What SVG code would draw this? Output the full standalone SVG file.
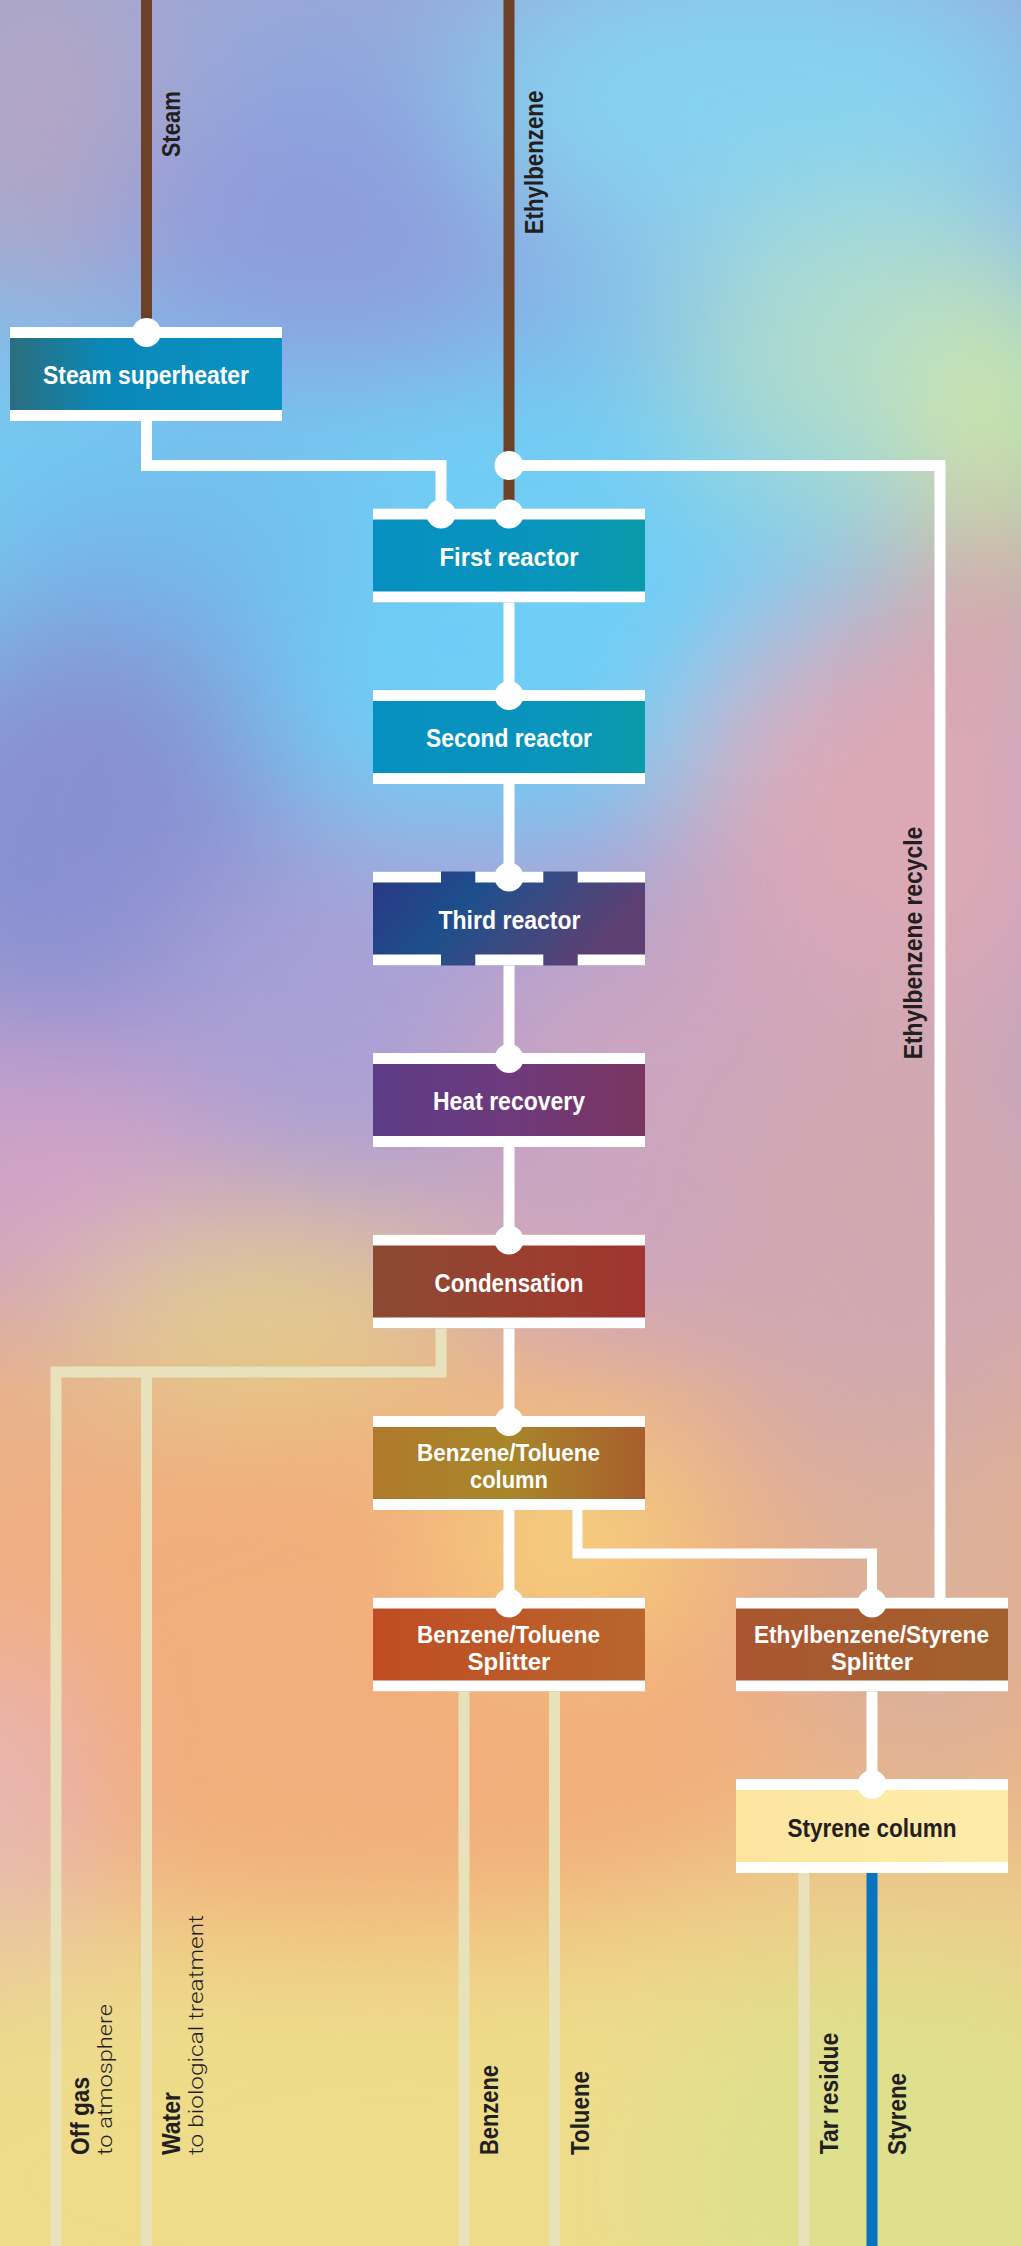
<svg xmlns="http://www.w3.org/2000/svg" width="1021" height="2246" viewBox="0 0 1021 2246">
<style>
.bar{fill:#fff}
.dot{fill:#fff}
.pipe{fill:none;stroke:#fff;stroke-width:11}
.cream{fill:none;stroke:#E8E2BC;stroke-width:11}
.brown{fill:none;stroke:#6C4127;stroke-width:11}
.blue{fill:none;stroke:#0874C0;stroke-width:11}
.lbl{font-family:"Liberation Sans Narrow","Liberation Sans",Arial,sans-serif;font-weight:bold;font-size:25.5px;fill:#fff;text-anchor:middle}
.lbl.two{font-size:24px}
.lbl.dark{fill:#231F20}
.side{font-family:"Liberation Sans Narrow","Liberation Sans",Arial,sans-serif;font-weight:bold;font-size:26px;fill:#231F20}
.light{font-family:Roboto,"Liberation Sans",Arial,sans-serif;font-weight:300;font-size:21px;fill:#231F20}
</style>
<defs>
<linearGradient id="bg" x1="0" y1="0" x2="0" y2="1">
<stop offset="0" stop-color="#98A8D8"/>
<stop offset="0.08" stop-color="#8AB0E4"/>
<stop offset="0.2" stop-color="#74CBF2"/>
<stop offset="0.3" stop-color="#7AC4EC"/>
<stop offset="0.38" stop-color="#98A0D8"/>
<stop offset="0.48" stop-color="#B4A0CC"/>
<stop offset="0.55" stop-color="#D0A8B8"/>
<stop offset="0.62" stop-color="#E8B08C"/>
<stop offset="0.75" stop-color="#F2B07E"/>
<stop offset="0.85" stop-color="#EDCB8A"/>
<stop offset="1" stop-color="#E8DE90"/>
</linearGradient>
<filter id="soft" x="-20%" y="-20%" width="140%" height="140%"><feGaussianBlur stdDeviation="70"/></filter>
<linearGradient id="gSteam" x1="0" y1="0" x2="1" y2="0"><stop offset="0" stop-color="#2B6E7E"/><stop offset="0.35" stop-color="#0A88B8"/><stop offset="1" stop-color="#0893C3"/></linearGradient>
<linearGradient id="gTeal" x1="0" y1="0" x2="1" y2="0"><stop offset="0" stop-color="#0690C1"/><stop offset="0.6" stop-color="#0894BC"/><stop offset="1" stop-color="#0A9BAA"/></linearGradient>
<linearGradient id="gThird" x1="0" y1="0" x2="1" y2="0.3"><stop offset="0" stop-color="#2C3683"/><stop offset="0.4" stop-color="#1D4F8C"/><stop offset="0.65" stop-color="#3A4A82"/><stop offset="1" stop-color="#5E3F72"/></linearGradient>
<linearGradient id="gHeat" x1="0" y1="0" x2="1" y2="0"><stop offset="0" stop-color="#5C3C86"/><stop offset="0.5" stop-color="#6E3A7C"/><stop offset="1" stop-color="#7A3560"/></linearGradient>
<linearGradient id="gCond" x1="0" y1="0" x2="1" y2="0"><stop offset="0" stop-color="#8A4A34"/><stop offset="0.5" stop-color="#9A4030"/><stop offset="1" stop-color="#A0352F"/></linearGradient>
<linearGradient id="gBTC" x1="0" y1="0" x2="1" y2="0"><stop offset="0" stop-color="#B07A2C"/><stop offset="0.5" stop-color="#A8862A"/><stop offset="1" stop-color="#A85E2C"/></linearGradient>
<linearGradient id="gBTS" x1="0" y1="0" x2="1" y2="0"><stop offset="0" stop-color="#C04C24"/><stop offset="1" stop-color="#B8662C"/></linearGradient>
<linearGradient id="gEBS" x1="0" y1="0" x2="1" y2="0"><stop offset="0" stop-color="#AA5630"/><stop offset="1" stop-color="#A2602E"/></linearGradient>
<linearGradient id="gSty" x1="0" y1="0" x2="1" y2="0"><stop offset="0" stop-color="#FDE5A0"/><stop offset="1" stop-color="#FEEBAA"/></linearGradient>
</defs>

<g id="background">
<rect x="0" y="0" width="1021" height="2246" fill="url(#bg)"/>
<g filter="url(#soft)">
<ellipse cx="40" cy="120" rx="140" ry="180" fill="#B4A6C4"/>
<ellipse cx="330" cy="220" rx="220" ry="140" fill="#8E9CDC"/>
<ellipse cx="760" cy="100" rx="300" ry="160" fill="#86D2F0"/>
<ellipse cx="880" cy="360" rx="200" ry="160" fill="#B0DCCC"/>
<ellipse cx="1010" cy="420" rx="70" ry="130" fill="#DCEA92"/>
<ellipse cx="480" cy="640" rx="330" ry="190" fill="#6ECEF6"/>
<ellipse cx="170" cy="560" rx="180" ry="130" fill="#72BCEC"/>
<ellipse cx="1000" cy="620" rx="90" ry="110" fill="#EC9E8C"/>
<ellipse cx="900" cy="840" rx="220" ry="240" fill="#DCA8B6"/>
<ellipse cx="90" cy="830" rx="200" ry="220" fill="#8890D2"/>
<ellipse cx="430" cy="1000" rx="280" ry="160" fill="#A8A0D6"/>
<ellipse cx="700" cy="1120" rx="250" ry="200" fill="#CCA4C0"/>
<ellipse cx="60" cy="1160" rx="140" ry="110" fill="#D2A2C8"/>
<ellipse cx="260" cy="1320" rx="200" ry="80" fill="#E2D08C"/>
<ellipse cx="900" cy="1250" rx="200" ry="260" fill="#D0A8B0"/>
<ellipse cx="380" cy="1680" rx="420" ry="260" fill="#F2AE7C"/>
<ellipse cx="570" cy="1540" rx="120" ry="90" fill="#F6D47C"/>
<ellipse cx="930" cy="1620" rx="160" ry="200" fill="#DCB09A"/>
<ellipse cx="0" cy="1800" rx="60" ry="160" fill="#E2B6CA"/>
<ellipse cx="420" cy="2180" rx="600" ry="240" fill="#EEDC8A"/>
<ellipse cx="900" cy="2180" rx="250" ry="220" fill="#DEE08E"/>
</g>
</g>

<g id="nodes">
<g id="steam-superheater">
<rect x="10" y="327" width="272" height="94" fill="url(#gSteam)"/>
<rect class="bar" x="10" y="327" width="272" height="11"/>
<rect class="bar" x="10" y="410" width="272" height="11"/>
<text class="lbl" x="146" y="384" textLength="206" lengthAdjust="spacingAndGlyphs">Steam superheater</text>
</g>
<g id="first-reactor">
<rect x="373" y="508.5" width="272" height="94" fill="url(#gTeal)"/>
<rect class="bar" x="373" y="508.5" width="272" height="11"/>
<rect class="bar" x="373" y="591.5" width="272" height="11"/>
<text class="lbl" x="509" y="565.5" textLength="139" lengthAdjust="spacingAndGlyphs">First reactor</text>
</g>
<g id="second-reactor">
<rect x="373" y="690" width="272" height="94" fill="url(#gTeal)"/>
<rect class="bar" x="373" y="690" width="272" height="11"/>
<rect class="bar" x="373" y="773" width="272" height="11"/>
<text class="lbl" x="509" y="747" textLength="166" lengthAdjust="spacingAndGlyphs">Second reactor</text>
</g>
<g id="third-reactor">
<rect x="373" y="871.5" width="272" height="94" fill="url(#gThird)"/>
<rect class="bar" x="373" y="871.5" width="68" height="11"/>
<rect class="bar" x="475.3" y="871.5" width="68" height="11"/>
<rect class="bar" x="577.7" y="871.5" width="67.3" height="11"/>
<rect class="bar" x="373" y="954.5" width="68" height="11"/>
<rect class="bar" x="475.3" y="954.5" width="68" height="11"/>
<rect class="bar" x="577.7" y="954.5" width="67.3" height="11"/>
<text class="lbl" x="509.5" y="928.5" textLength="142" lengthAdjust="spacingAndGlyphs">Third reactor</text>
</g>
<g id="heat-recovery">
<rect x="373" y="1053" width="272" height="94" fill="url(#gHeat)"/>
<rect class="bar" x="373" y="1053" width="272" height="11"/>
<rect class="bar" x="373" y="1136" width="272" height="11"/>
<text class="lbl" x="509" y="1110" textLength="152" lengthAdjust="spacingAndGlyphs">Heat recovery</text>
</g>
<g id="condensation">
<rect x="373" y="1234.5" width="272" height="94" fill="url(#gCond)"/>
<rect class="bar" x="373" y="1234.5" width="272" height="11"/>
<rect class="bar" x="373" y="1317.5" width="272" height="11"/>
<text class="lbl" x="509" y="1291.5" textLength="149" lengthAdjust="spacingAndGlyphs">Condensation</text>
</g>
<g id="benzene-toluene-column">
<rect x="373" y="1416" width="272" height="94" fill="url(#gBTC)"/>
<rect class="bar" x="373" y="1416" width="272" height="11"/>
<rect class="bar" x="373" y="1499" width="272" height="11"/>
<text class="lbl two" x="508.5" y="1461" textLength="183" lengthAdjust="spacingAndGlyphs">Benzene/Toluene</text>
<text class="lbl two" x="509" y="1488" textLength="78" lengthAdjust="spacingAndGlyphs">column</text>
</g>
<g id="benzene-toluene-splitter">
<rect x="373" y="1597.5" width="272" height="94" fill="url(#gBTS)"/>
<rect class="bar" x="373" y="1597.5" width="272" height="11"/>
<rect class="bar" x="373" y="1680.5" width="272" height="11"/>
<text class="lbl two" x="508.5" y="1642.5" textLength="183" lengthAdjust="spacingAndGlyphs">Benzene/Toluene</text>
<text class="lbl two" x="509" y="1669.5" textLength="83" lengthAdjust="spacingAndGlyphs">Splitter</text>
</g>
<g id="ethylbenzene-styrene-splitter">
<rect x="736" y="1597.5" width="272" height="94" fill="url(#gEBS)"/>
<rect class="bar" x="736" y="1597.5" width="272" height="11"/>
<rect class="bar" x="736" y="1680.5" width="272" height="11"/>
<text class="lbl two" x="871.5" y="1642.5" textLength="235" lengthAdjust="spacingAndGlyphs">Ethylbenzene/Styrene</text>
<text class="lbl two" x="872" y="1669.5" textLength="82" lengthAdjust="spacingAndGlyphs">Splitter</text>
</g>
<g id="styrene-column">
<rect x="736" y="1779" width="272" height="94" fill="url(#gSty)"/>
<rect class="bar" x="736" y="1779" width="272" height="11"/>
<rect class="bar" x="736" y="1862" width="272" height="11"/>
<text class="lbl dark" x="872" y="1836.5" textLength="169" lengthAdjust="spacingAndGlyphs">Styrene column</text>
</g>
</g>

<g id="connectors">
<line class="brown" x1="146.5" y1="0" x2="146.5" y2="333"/>
<line class="brown" x1="509" y1="0" x2="509" y2="514"/>
<path class="pipe" d="M146.5 421 V465.5 H441 V514"/>
<path class="pipe" d="M509 465.5 H940 V1603"/>
<line class="pipe" x1="509" y1="602.5" x2="509" y2="695.5"/>
<line class="pipe" x1="509" y1="784" x2="509" y2="877"/>
<line class="pipe" x1="509" y1="965.5" x2="509" y2="1058.5"/>
<line class="pipe" x1="509" y1="1147" x2="509" y2="1240"/>
<line class="pipe" x1="509" y1="1328.5" x2="509" y2="1421.5"/>
<line class="pipe" x1="509" y1="1510" x2="509" y2="1603"/>
<path class="pipe" style="stroke-width:10" d="M577.5 1510 V1553.5 H872 V1603"/>
<line class="pipe" x1="872" y1="1691.5" x2="872" y2="1784.5"/>
<path class="cream" d="M441 1328.5 V1372 H56 V2246"/>
<line class="cream" x1="146.5" y1="1372" x2="146.5" y2="2246"/>
<line class="cream" x1="464" y1="1691.5" x2="464" y2="2246"/>
<line class="cream" x1="554.5" y1="1691.5" x2="554.5" y2="2246"/>
<line class="cream" x1="804" y1="1873" x2="804" y2="2246"/>
<line class="blue" x1="872" y1="1873" x2="872" y2="2246"/>
<circle class="dot" cx="146.5" cy="332.5" r="14.5"/>
<circle class="dot" cx="509" cy="465.5" r="14.5"/>
<circle class="dot" cx="441" cy="514" r="14.5"/>
<circle class="dot" cx="509" cy="514" r="14.5"/>
<circle class="dot" cx="509" cy="695.5" r="14.5"/>
<circle class="dot" cx="509" cy="877" r="14.5"/>
<circle class="dot" cx="509" cy="1058.5" r="14.5"/>
<circle class="dot" cx="509" cy="1240" r="14.5"/>
<circle class="dot" cx="509" cy="1421.5" r="14.5"/>
<circle class="dot" cx="509" cy="1603" r="14.5"/>
<circle class="dot" cx="872" cy="1603" r="14.5"/>
<circle class="dot" cx="872" cy="1784.5" r="14.5"/>
</g>

<g id="labels">
<text class="side" transform="translate(180,157.3) rotate(-90)" textLength="66" lengthAdjust="spacingAndGlyphs">Steam</text>
<text class="side" transform="translate(542.7,234.3) rotate(-90)" textLength="143.6" lengthAdjust="spacingAndGlyphs">Ethylbenzene</text>
<text class="side" transform="translate(921.7,1059.3) rotate(-90)" textLength="232.6" lengthAdjust="spacingAndGlyphs">Ethylbenzene recycle</text>
<text class="side" transform="translate(89.3,2155) rotate(-90)" textLength="78" lengthAdjust="spacingAndGlyphs">Off gas</text>
<text class="light" transform="translate(112.3,2155) rotate(-90)" textLength="151" lengthAdjust="spacingAndGlyphs">to atmosphere</text>
<text class="side" transform="translate(180,2155) rotate(-90)" textLength="63" lengthAdjust="spacingAndGlyphs">Water</text>
<text class="light" transform="translate(203,2155) rotate(-90)" textLength="240" lengthAdjust="spacingAndGlyphs">to biological treatment</text>
<text class="side" transform="translate(498.3,2155) rotate(-90)" textLength="90" lengthAdjust="spacingAndGlyphs">Benzene</text>
<text class="side" transform="translate(588.7,2155) rotate(-90)" textLength="84" lengthAdjust="spacingAndGlyphs">Toluene</text>
<text class="side" transform="translate(838.3,2154.3) rotate(-90)" textLength="121.6" lengthAdjust="spacingAndGlyphs">Tar residue</text>
<text class="side" transform="translate(905.5,2155) rotate(-90)" textLength="82" lengthAdjust="spacingAndGlyphs">Styrene</text>
</g>
</svg>
